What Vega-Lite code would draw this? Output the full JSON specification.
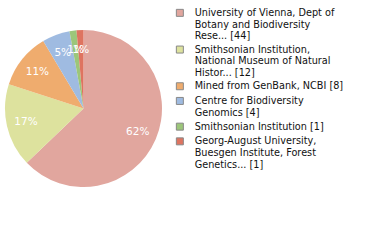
{
  "$schema": "https://vega.github.io/schema/vega-lite/v6.json",
  "width": 157,
  "height": 157,
  "padding": {"left": 5, "top": 30, "right": 218, "bottom": 53},
  "autosize": {"type": "none"},
  "background": "white",
  "config": {"view": {"stroke": null}},
  "data": {
    "values": [
      {"rank": 1, "name": "University of Vienna, Dept of|Botany and Biodiversity|Rese... [44]", "count": 44, "pct": "62%"},
      {"rank": 2, "name": "Smithsonian Institution,|National Museum of Natural|Histor... [12]", "count": 12, "pct": "17%"},
      {"rank": 3, "name": "Mined from GenBank, NCBI [8]", "count": 8, "pct": "11%"},
      {"rank": 4, "name": "Centre for Biodiversity|Genomics [4]", "count": 4, "pct": "5%"},
      {"rank": 5, "name": "Smithsonian Institution [1]", "count": 1, "pct": "1%"},
      {"rank": 6, "name": "Georg-August University,|Buesgen Institute, Forest|Genetics... [1]", "count": 1, "pct": "1%"}
    ]
  },
  "encoding": {
    "theta": {"field": "count", "type": "quantitative", "stack": true},
    "order": {"field": "rank", "type": "quantitative"},
    "color": {
      "field": "name",
      "type": "nominal",
      "scale": {
        "domain": [
          "University of Vienna, Dept of|Botany and Biodiversity|Rese... [44]",
          "Smithsonian Institution,|National Museum of Natural|Histor... [12]",
          "Mined from GenBank, NCBI [8]",
          "Centre for Biodiversity|Genomics [4]",
          "Smithsonian Institution [1]",
          "Georg-August University,|Buesgen Institute, Forest|Genetics... [1]"
        ],
        "range": ["#E1A69E", "#DDE29E", "#EFAC6E", "#9FBBE1", "#9CC67A", "#DE7460"]
      },
      "legend": {
        "title": null,
        "orient": "none",
        "legendX": 170,
        "legendY": -22,
        "padding": 0,
        "symbolType": "square",
        "symbolSize": 49,
        "symbolStrokeColor": "#888888",
        "symbolStrokeWidth": 1,
        "symbolOpacity": 1,
        "labelFont": "DejaVu Sans",
        "labelFontSize": 9.7,
        "labelColor": "#111111",
        "labelLimit": 250,
        "labelOffset": 10,
        "rowPadding": 2.7,
        "labelExpr": "split(datum.label, '|')",
        "encode": {"labels": {"update": {"lineHeight": {"value": 11.7}}}}
      }
    }
  },
  "layer": [
    {"mark": {"type": "arc", "radius": 78.5}},
    {
      "mark": {"type": "text", "radius": 59, "font": "DejaVu Sans", "fontSize": 10.5, "fill": "white", "align": "center", "baseline": "middle"},
      "encoding": {"text": {"field": "pct"}, "color": {"value": "white"}}
    }
  ]
}
